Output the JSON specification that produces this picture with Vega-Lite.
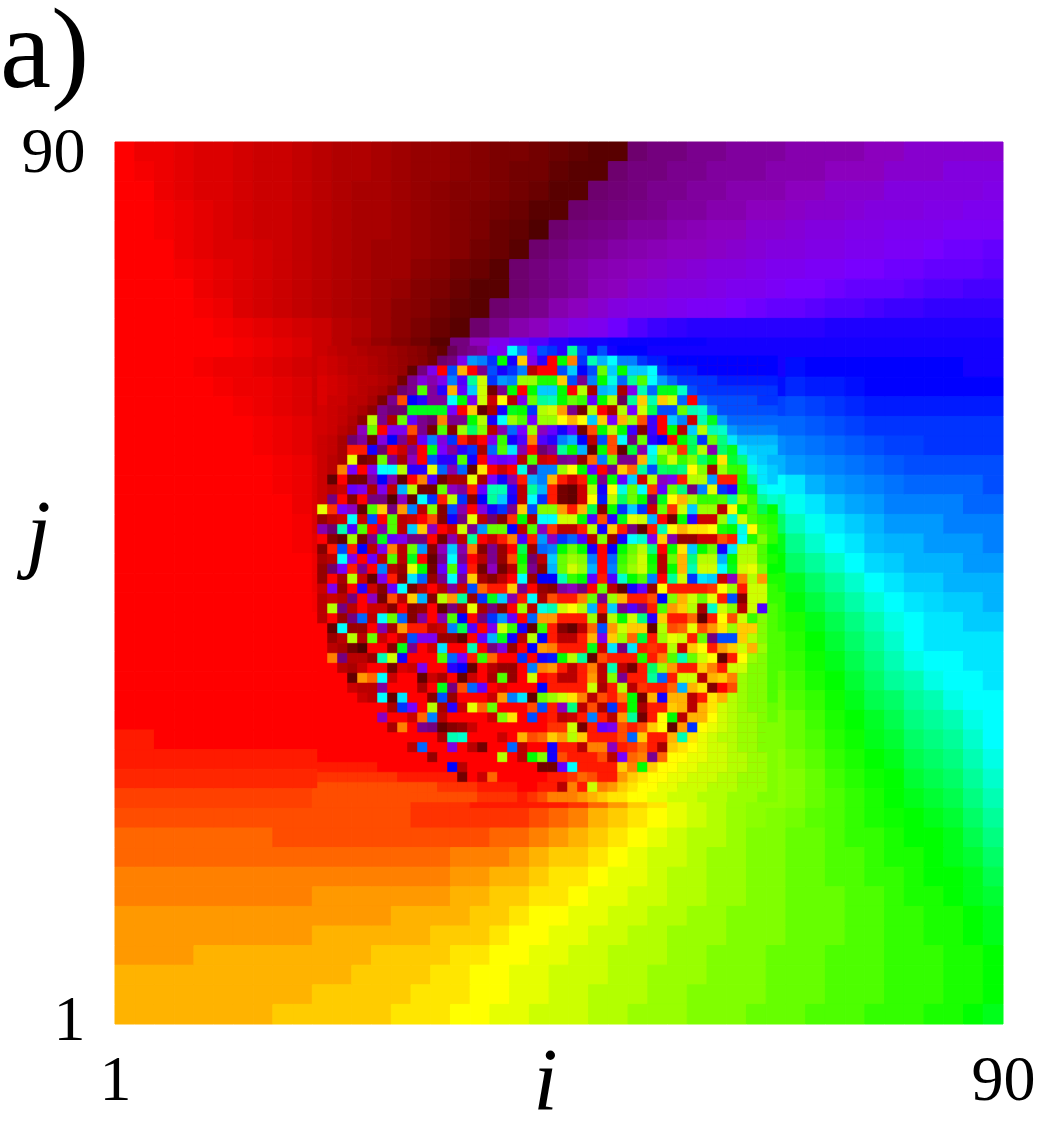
{"$schema":"https://vega.github.io/schema/vega-lite/v6.json","width":888,"height":882,"autosize":"none","padding":{"left":115,"top":142,"right":45,"bottom":101},"background":"white","view":{"stroke":null},
"title":{"text":"a)","font":"Liberation Serif","fontSize":115,"fontStyle":"normal","fontWeight":"normal","color":"black","anchor":"start","frame":"group","dx":-115,"offset":-82,"baseline":"alphabetic"},
"datasets":{"coarse":[
{"r":0,"v":[70,69,69,68.5,68,68,67.5,67,67,66.5,66,65.5,65.5,65,64.5,64,64,63.5,63,62.5,62.5,62,61.5,61,60.5,60.5,55,54,54,53,53,52,52,52,51,51,51,51,50,50,49,49,49,49,49]},
{"r":1,"v":[70,69.5,69,68.5,68,68,67.5,67,67,66.5,66,65.5,65.5,65,64.5,64,64,63.5,63,62.5,62,62,61,60.5,60.5,55,54,54,53,53,52,52,52,51,51,51,50,50,50,49,49,49,48,48,48]},
{"r":2,"v":[70,70,69,68.5,68,68,67.5,67,67,66.5,66,65.5,65,65,64.5,64,63.5,63,63,62.5,62,61.5,60.5,60.5,55,54.5,54,53,53,52,52,51,51,51,50,50,49,49,49,48,48,48,48,48,47.5]},
{"r":3,"v":[70,70,69.5,69,68.5,68,67.5,67,67,66.5,66,65.5,65,65,64.5,64,63.5,63,62.5,62,61.5,60.5,60.5,55,54.5,54,53.5,53,52,52,51,51,50,50,49.5,49,49,48.5,48,48,48,47.5,47.5,47,47]},
{"r":4,"v":[70,70,69.5,69,68.5,68,67.5,67,67,66.5,66,65.5,65,65,64.5,64,63.5,63,62.5,61.5,61,60,55,54,53.5,53,52,52,51,50.5,50,50,49,49,48.5,48,48,47.5,47.5,47,47,47,46.5,46.5,46.5]},
{"r":5,"v":[70,70,70,69,68.5,68,68,67.5,67,66.5,66,65.5,65,64.5,64.5,64,63.5,63,62,61.5,60.5,55,54,53,52.5,51.5,51,50.5,50,50,49.5,49,48.5,48,48,47.5,47.5,47,47,46.5,46.5,46,45.5,45.5,45]},
{"r":6,"v":[70,70,70,69.5,69,68.5,68,67.5,67,66.5,66,65.5,65,64.5,64.5,63.5,63,62,61.5,60.5,55,54,53,52,51,50.5,50,49.5,49,48.5,48,48,47.5,47,47,46.5,46.5,46,46,45.5,45.5,45,45,45,44.5]},
{"r":7,"v":[70,70,70,70,69,68.5,68,67.5,67,66.5,66,65.5,65,64.5,64,63,62.5,61.5,60.5,60.5,55,54,53,52,50.5,50,49,48.5,48,48,47.5,47,47,46.5,46,46,45.5,45,45,45,44.5,44,44,43.5,43.5]},
{"r":8,"v":[70,70,70,70,69.5,69,68,67.5,67,66.5,66,65.5,65,64.5,63.5,63,62,61,60.5,55,54,53,51,50,49,48,47.5,47.5,47,46.5,46.5,46,45.5,45,45,44.5,44,44,43.5,43,43,42.5,42.5,42.5,42.5]},
{"r":9,"v":[70,70,70,70,70,69.5,69,68.5,68,67.5,67,66,65.5,64.5,63.5,62.5,61.5,60.5,55,53,51,50,48.5,47.5,47,45.5,44,43,42.5,42,42,42,42,42,42,42,41.5,41.5,41.5,41.5,41.5,41.5,41.5,41.5,41.5]},
{"r":10,"v":[70,70,70,70,70,70,69.5,69,68.5,68,67,66,65,64,63,62,60.5,54,50,47,45,44,42,41,41,40.5,40.5,40.5,40.5,40.5,41,41,41,41,41,41,41,41,41,41,41,41,41,41,41]},
{"r":11,"v":[70,70,70,70,69.5,69,69,68.5,68,67.5,67,70,70,70,70,70,70,70,70,70,70,70,70,70,70,70,70,70,70,70,70,70,70,41,39.5,40,40,40,40,40,40,40,40,41,41]},
{"r":12,"v":[70,70,70,70,70,69.5,69,69,68.5,68,67,70,70,70,70,70,70,70,70,70,70,70,70,70,70,70,70,70,70,70,70,70,70,39.5,38.5,39,39,39.5,40,40,40,40,40,40,40]},
{"r":13,"v":[70,70,70,70,70,70,69.5,69,68.5,68,67,70,70,70,70,70,70,70,70,70,70,70,70,70,70,70,70,70,70,70,70,70,70,37.5,37,37.5,38,38.5,39,39,39,39,39,39,39]},
{"r":14,"v":[70,70,70,70,70,70,70,69.5,69,68.5,67.5,70,70,70,70,70,70,70,70,70,70,70,70,70,70,70,70,70,70,70,70,70,70,36,36,36.5,37,37.5,38,38,38,38,38,38,38]},
{"r":15,"v":[70,70,70,70,70,70,70,69.5,69,68.5,67.5,70,70,70,70,70,70,70,70,70,70,70,70,70,70,70,70,70,70,70,70,70,70,34.5,35,35.5,36,36.5,37,37.5,37.5,38,38,38,38]},
{"r":16,"v":[70,70,70,70,70,70,70,70,69.5,69,68,70,70,70,70,70,70,70,70,70,70,70,70,70,70,70,70,70,70,70,70,70,70,33,34,34.5,35,35.5,36,36.5,37,37,37,37,37]},
{"r":17,"v":[70,70,70,70,70,70,70,70,69.5,69,68,70,70,70,70,70,70,70,70,70,70,70,70,70,70,70,70,70,70,70,70,70,70,30,31,33,34,34.5,35,35.5,36,36,36,36,37]},
{"r":18,"v":[70,70,70,70,70,70,70,70,70,69,68,70,70,70,70,70,70,70,70,70,70,70,70,70,70,70,70,70,70,70,70,70,70,27,29.5,31,32.5,33.5,34,35,35,35,35,36,36]},
{"r":19,"v":[70,70,70,70,70,70,70,70,70,69.5,68,70,70,70,70,70,70,70,70,70,70,70,70,70,70,70,70,70,70,70,70,70,70,24,27.5,29.5,31,32,33,34,34,34,35,35,35]},
{"r":20,"v":[70,70,70,70,70,70,70,70,70,69.5,68.5,70,70,70,70,70,70,70,70,70,70,70,70,70,70,70,70,70,70,70,70,70,70,21,25.5,28,30,31,32.5,33,33,34,34,34,35]},
{"r":21,"v":[70,70,70,70,70,70,70,70,70,70,69,70,70,70,70,70,70,70,70,70,70,70,70,70,70,70,70,70,70,70,70,70,70,20,24,26,28,30,31.5,32,33,33,33,34,34]},
{"r":22,"v":[70,70,70,70,70,70,70,70,70,70,69,70,70,70,70,70,70,70,70,70,70,70,70,70,70,70,70,70,70,70,70,70,70,19,21.5,24,26,28,30,31,32,32,33,33,33]},
{"r":23,"v":[70,70,70,70,70,70,70,70,70,70,69.5,70,70,70,70,70,70,70,70,70,70,70,70,70,70,70,70,70,70,70,70,70,70,18,20.5,22.5,24.5,26.5,28.5,30,31,31.5,32,32,33]},
{"r":24,"v":[70,70,70,70,70,70,70,70,70,70,70,70,70,70,70,70,70,70,70,70,70,70,70,70,70,70,70,70,70,70,70,70,70,18,19,21,23,25,27,29,30,31,31,32,32]},
{"r":25,"v":[70,70,70,70,70,70,70,70,70,70,70,70,70,70,70,70,70,70,70,70,70,70,70,70,70,70,70,70,70,70,70,70,70,17,18.5,20,22,24,26,28,30,31,31,31,31]},
{"r":26,"v":[70,70,70,70,70,70,70,70,70,70,70,70,70,70,70,70,70,70,70,70,70,70,70,70,70,70,70,70,70,70,70,70,70,17,18,19.5,21,23,25,27,29,30,30,31,31]},
{"r":27,"v":[70,70,70,70,70,70,70,70,70,70,70,70,70,70,70,70,70,70,70,70,70,70,70,70,70,70,70,70,70,70,70,70,70,16,17.5,19,20,22,24,26,27,29,30,30,31]},
{"r":28,"v":[70,70,70,70,70,70,70,70,70,70,70,70,70,70,70,70,70,70,70,70,70,70,70,70,70,70,70,70,70,70,70,70,70,15.5,17,18,19.5,21,23,24,26,27,29,30,30]},
{"r":29,"v":[70,70,70,70,70,70,70,70,70,70,70,70,70,70,70,70,70,70,70,70,70,70,70,70,70,70,70,70,70,70,70,70,70,15,16,17.5,19,20,21.5,23,25,26,27,29,30]},
{"r":30,"v":[1,1,0,0,0,0,0,0,0,0,0,70,70,70,70,70,70,70,70,70,70,70,70,70,70,70,70,70,70,70,70,70,70,15,16,17,18.5,19.5,21,22,24,25,26,28,30]},
{"r":31,"v":[1,1,1,1,1,1,1,1,1,1,1,70,70,70,70,70,70,70,70,70,70,70,70,70,70,70,70,70,70,70,70,70,70,14.5,15.5,16.5,18,19,20,21,23,24,25,27,29]},
{"r":32,"v":[1.5,1.5,1.5,1.5,1.5,1.5,1.5,1.5,1.5,1.5,1.5,70,70,70,70,70,70,70,70,70,70,70,70,70,70,70,70,70,70,70,70,70,70,14.5,15,16,17.5,18.5,19.5,20,22,23,24,26,28]},
{"r":33,"v":[2.5,2.5,2.5,2.5,2.5,2.5,2.5,2.5,2.5,2.5,3,3,3,3,3,2,2,2,1,1,1,1,1,2,4,6,8,9,11,12,13,14,14.5,14.5,15,16,17,18,19,20,21,22,23,25,27]},
{"r":34,"v":[3,3,3,3,3,3,3,3,3,3,3,3,3,3,3,2,2,2,2,2,2,3,4,5,7,8,9,10,11,12,13,14,14.5,15,15.5,16.5,17,18,19,19.5,20,21,22,24,26]},
{"r":35,"v":[4,4,4,4,4,4,4,4,3,3,3,3,3,3,3,3,3,3,3,4,4,5,6,7,8,9,10,11,12,13,13,14,15,15,16,16,17,18,18,19,20,20,21,23,25]},
{"r":36,"v":[4,4,4,4,4,4,4,4,4,4,4,4,4,4,4,4,4,5,5,5,6,7,8,8,9,10,11,12,12,13,14,14,15,15,16,16,17,17,18,19,19,20,21,22,24]},
{"r":37,"v":[5,5,5,5,5,5,5,5,5,5,5,5,5,5,5,5,5,6,6,7,7,8,9,9,10,11,11,12,13,13,14,14,15,15,16,16,17,17,18,18,19,20,20,21,23]},
{"r":38,"v":[5,5,5,5,5,5,5,5,5,5,6,6,6,6,6,6,6,7,7,8,8,9,9,10,11,11,12,12,13,13,14,14,15,15,16,16,16,17,17,18,19,19,20,21,22]},
{"r":39,"v":[6,6,6,6,6,6,6,6,6,6,6,6,6,6,7,7,7,7,8,8,9,10,10,11,11,12,12,13,13,14,14,15,15,15,16,16,16,17,17,18,18,19,19,20,21]},
{"r":40,"v":[6,6,6,6,6,6,6,6,6,6,7,7,7,7,7,7,8,8,8,9,10,10,11,11,12,12,13,13,14,14,14,15,15,15,16,16,16,17,17,18,18,19,19,20,21]},
{"r":41,"v":[6,6,6,6,7,7,7,7,7,7,7,7,7,8,8,8,8,9,9,10,10,11,11,12,12,13,13,13,14,14,15,15,15,16,16,16,17,17,17,18,18,18,19,19,20]},
{"r":42,"v":[7,7,7,7,7,7,7,7,7,7,7,7,8,8,8,8,9,9,10,10,11,11,12,12,12,13,13,14,14,14,15,15,15,16,16,16,17,17,17,18,18,18,19,19,20]},
{"r":43,"v":[7,7,7,7,7,7,7,7,7,7,8,8,8,8,8,9,9,9,10,10,11,11,12,12,13,13,13,14,14,15,15,15,15,16,16,16,17,17,17,18,18,18,19,19,20]},
{"r":44,"v":[7,7,7,7,7,7,7,7,8,8,8,8,8,8,9,9,9,10,10,11,11,12,12,12,13,13,14,14,14,15,15,15,16,16,16,17,17,17,18,18,18,19,19,20,21]}
],"fine":[
{"r":0,"v":[67,66.5,66,66,65.5,65,65,64.5,64,63.5,63,62,61,56,54,53,52,46,47,30,35,46,37,38,42,26,37,41,37,41,40,40,40,41,41,41,41,41,41,41,41,41,41,41,41,41]},
{"r":1,"v":[67.5,67,66.5,66,66,65.5,65,64.5,64,63.5,63,62,55,54,47,34,35,38,20,41,8,47,42,0,20,5,38,27,33,30,35,35,38,39,39,40,40,40,40,40,40,40,40,40,40,40]},
{"r":2,"v":[67.5,67,66.5,66,66,65.5,65,64.5,64,61,54,47,0,37,7,0,53,37,41,38,35,66,0,0,37,32,40,37,16,32,20,32,32,30,38,39,39,39,40,40,40,40,40,40,40,40]},
{"r":3,"v":[68,67.5,67,66.5,66,66,65.5,65,62,53,48,51,47,35,44,26,12,38,34,35,14,14,19,19,8,37,53,35,20,29,36,26,17,30,34,36,38,38,38,38,39,39,39,39,39,39]},
{"r":4,"v":[68,67.5,67,66.5,66,65.5,65,63.5,55,53,17,52,42,7,45,32,12,62,53,20,0,20,32,32,20,0,13,65,33,32,65,47,27,36,21,21,28,37,38,38,38,38,38,38,38,38]},
{"r":5,"v":[68,67,67,66,66,65,62.5,53,3,40,42,52,52,30,20,47,12,67,10,66,47,16,26,27,20,16,18,45,20,13,56,26,8,27,8,12,36,0,36,37,37,37,37,37,38,38]},
{"r":6,"v":[67.5,67,66.5,66,65,63.5,53,55,55,21,21,21,21,46,0,8,61,65,41,21,20,38,13,12,6,53,62,13,0,65,13,46,12,23,37,37,16,27,28,35,37,37,37,37,37,37]},
{"r":7,"v":[67.5,67,66.5,65.5,63.5,13,53,65,16,45,53,55,5,53,53,20,13,41,30,14,17,46,14,14,10,7,10,32,8,46,7,14,3,43,0,32,35,67,27,21,34,36,36,36,36,36]},
{"r":8,"v":[67.5,67,66,65,50,16,0,47,47,3,53,62,17,63,14,24,15,66,51,36,46,14,50,45,41,45,62,3,20,13,20,43,63,43,0,20,66,32,13,27,28,34,35,35,35,35]},
{"r":9,"v":[67,66.5,65,55,52,62,48,40,53,66,45,35,48,38,1,66,0,47,18,41,44,5,44,42,35,33,40,66,37,3,30,54,16,42,40,0,20,24,38,16,25,31,33,33,33,33]},
{"r":10,"v":[67,66.5,65,1,1,41,55,0,67,53,0,21,46,52,42,38,65,36,17,31,51,0,55,52,26,20,33,61,20,3,61,22,51,30,13,16,2,23,13,51,24,21,31,32,32,32]},
{"r":11,"v":[67,66,65,11,62,63,16,53,65,50,0,37,42,42,17,41,0,46,45,46,66,17,67,68,53,52,64,4,35,16,53,53,7,28,17,12,18,15,24,20,9,22,25,31,32,33]},
{"r":12,"v":[67,66,5,46,0,47,30,30,13,42,42,11,36,51,36,61,9,0,67,0,29,55,35,35,14,10,20,45,0,53,8,4,26,37,24,23,25,10,15,65,14,18,18,29,31,32]},
{"r":13,"v":[67,61,0,62,62,52,40,51,61,0,5,44,62,65,65,11,65,46,41,51,1,33,35,7,1,67,1,20,53,20,45,32,67,13,50,47,1,13,13,34,1,1,19,26,31,32]},
{"r":14,"v":[67,66,67,45,47,65,47,66,33,13,62,62,16,50,52,1,45,27,27,42,66,26,33,1,62,61,67,13,41,10,29,16,30,2,45,16,25,54,35,11,38,42,19,21,29,30]},
{"r":15,"v":[67,54,0,63,0,54,54,60,50,61,30,38,1,13,38,63,40,26,32,41,66,30,38,1,62,61,67,10,39,13,24,16,20,55,21,10,7,14,18,18,17,26,14,18,26,28]},
{"r":16,"v":[11,2,46,50,61,17,8,54,6,35,66,15,63,37,51,0,48,41,38,53,8,37,15,15,6,1,7,23,63,20,38,32,38,67,16,2,12,32,14,14,66,10,20,17,23,20]},
{"r":17,"v":[64,66,67,30,67,37,0,17,66,67,0,3,63,41,54,11,66,55,63,2,20,65,30,30,12,12,20,44,3,42,21,11,12,33,0,62,20,42,67,67,14,28,12,17,18,19]},
{"r":18,"v":[51,55,27,44,17,0,51,17,66,32,8,50,0,67,12,53,34,16,16,40,66,17,50,2,66,66,1,13,41,8,1,54,61,1,27,10,7,9,9,10,19,20,29,10,17,18]},
{"r":19,"v":[0,63,61,14,62,53,21,45,47,54,54,0,62,51,66,26,0,67,1,5,44,1,34,50,38,36,44,66,15,64,41,30,28,47,8,51,64,64,67,67,3,1,30,19,15,18]},
{"r":20,"v":[63,1,37,1,40,66,47,5,66,16,34,63,50,32,51,5,63,53,64,0,23,64,36,35,20,16,20,41,0,40,20,16,13,25,0,20,9,32,20,16,41,31,13,13,17,20]},
{"r":21,"v":[65,66,30,47,0,45,66,17,66,21,0,61,53,30,53,0,66,53,64,3,20,55,66,32,16,14,15,35,0,36,18,15,12,20,66,16,7,25,13,13,33,20,13,13,17,19]},
{"r":22,"v":[64,55,46,1,53,0,35,66,64,11,20,62,45,17,45,1,62,50,62,66,18,53,63,33,16,12,14,33,0,35,17,14,12,19,66,20,7,27,12,12,30,21,12,11,15,20]},
{"r":23,"v":[64,0,65,13,67,61,47,1,63,31,36,64,53,30,53,8,65,63,66,0,30,64,40,40,27,18,20,45,1,44,28,20,17,35,0,26,12,38,31,32,67,50,5,13,6,19]},
{"r":24,"v":[67,47,64,0,42,67,63,45,30,62,66,0,66,52,67,37,4,1,1,8,53,0,64,63,52,50,54,0,16,66,61,41,45,64,10,1,1,1,1,2,10,14,1,12,12,18]},
{"r":25,"v":[66,67,66,54,0,50,62,3,66,8,33,63,13,6,26,64,38,21,32,51,1,30,65,3,1,1,5,16,53,14,7,1,1,3,40,15,7,12,16,11,1,37,63,12,12,18]},
{"r":26,"v":[66,13,54,66,0,67,67,63,0,63,64,0,61,54,65,11,65,54,63,0,14,66,29,27,12,10,13,33,1,32,53,44,53,1,17,6,8,13,65,28,12,15,66,12,44,17]},
{"r":27,"v":[66,0,64,54,36,66,30,16,36,63,52,0,51,17,40,0,54,38,34,45,0,36,6,6,1,1,1,14,63,13,20,12,25,42,8,1,1,4,61,1,10,3,12,18,15,17]},
{"r":28,"v":[70,61,30,64,64,0,51,65,6,1,1,66,67,35,23,44,0,47,12,18,41,61,18,1,63,61,66,4,37,6,12,8,8,61,13,3,4,11,3,6,9,14,8,8,15,17]},
{"r":29,"v":[70,64,66,13,66,16,67,0,66,37,47,47,64,64,61,0,45,33,21,41,66,13,40,1,66,66,1,7,47,8,14,4,22,1,14,11,12,1,16,54,37,37,8,13,15,17]},
{"r":30,"v":[70,66,65,62,60,0,0,63,21,53,0,67,31,0,0,27,0,54,48,64,0,40,6,5,1,1,1,21,67,31,54,31,1,2,1,13,67,8,10,1,6,8,12,7,14,17]},
{"r":31,"v":[70,5,54,66,66,64,27,12,41,0,0,0,17,36,46,1,18,4,0,0,38,0,41,39,20,13,26,61,3,1,1,1,19,1,5,17,27,16,12,10,61,1,10,14,15,17]},
{"r":32,"v":[70,70,66,65,67,0,0,62,68,67,47,0,0,42,40,61,0,66,64,64,0,35,5,6,1,66,1,5,66,27,66,62,1,24,14,6,1,1,8,5,1,12,12,15,15,17]},
{"r":33,"v":[70,70,70,61,6,4,30,67,0,0,61,67,65,0,61,67,0,65,17,64,0,12,0,1,66,66,1,6,66,15,53,1,1,26,36,1,12,12,66,7,8,5,14,15,15,17]},
{"r":34,"v":[70,70,70,67,66,66,52,0,0,0,65,0,21,54,3,36,45,0,68,0,0,0,40,1,1,1,1,12,65,1,13,66,2,1,1,4,33,7,9,63,0,3,14,15,15,17]},
{"r":35,"v":[70,70,70,70,67,66,30,61,31,0,0,63,37,64,0,0,0,67,6,35,31,61,16,14,12,9,5,66,3,1,5,20,62,7,41,7,7,66,1,9,7,13,14,15,15,17]},
{"r":36,"v":[70,70,70,70,70,70,70,65,38,46,0,13,65,42,67,11,4,16,0,0,0,3,37,1,50,25,66,3,65,38,1,20,65,1,1,8,7,66,7,9,12,13,14,15,15,16]},
{"r":37,"v":[70,70,70,70,70,70,50,0,0,67,4,35,66,0,0,0,0,67,15,9,0,37,0,1,66,67,1,35,1,66,6,26,62,1,10,20,66,7,7,10,12,13,14,14,15,16]},
{"r":38,"v":[70,70,70,70,70,70,70,65,5,0,53,54,61,63,64,67,0,0,0,0,0,0,0,2,2,12,62,1,45,47,3,1,3,8,10,61,6,38,10,11,12,13,14,14,15,15]},
{"r":39,"v":[0,0,0,0,0,0,0,0,0,0,0,0,65,27,28,0,0,0,67,0,7,3,4,8,6,13,8,1,1,1,3,36,8,1,1,7,27,9,11,12,13,13,14,14,15,15]},
{"r":40,"v":[0,0,0,0,0,0,0,0,0,66,36,0,0,48,0,66,62,0,0,36,66,0,0,41,1,1,66,5,5,50,1,2,4,1,65,8,9,10,11,12,12,13,14,14,15,15]},
{"r":41,"v":[0,0,0,0,0,0,0,0,0,0,0,64,0,0,0,0,0,0,13,0,66,20,15,41,3,1,1,1,3,66,46,4,5,53,4,10,10,11,11,12,12,13,13,14,14,15]},
{"r":42,"v":[1,1,1,1,1,1,0,0,0,0,0,0,0,40,66,0,0,0,0,0,0,0,62,62,45,30,1,1,1,1,8,5,20,8,10,10,11,11,12,12,12,13,13,14,14,15]},
{"r":43,"v":[2,2,2,2,2,2,2,2,1,1,1,1,1,1,62,0,67,4,0,0,0,0,0,1,1,2,4,3,1,1,6,8,9,10,10,11,11,12,12,12,13,13,14,14,14,15]},
{"r":44,"v":[3,3,3,3,3,3,3,3,3,3,3,3,2,2,2,2,1,1,1,1,0,0,1,1,66,5,1,12,5,6,8,9,10,10,11,11,12,12,12,13,13,13,14,14,14,15]},
{"r":45,"v":[3,3,3,3,3,3,3,3,3,3,3,3,3,3,3,3,2,2,2,2,1,2,3,5,5,5,6,7,8,9,9,10,10,11,11,12,12,12,13,13,13,14,14,14,15,15]}
],"ends":[{"i":1,"j":1},{"i":90,"j":90}]},
"resolve":{"scale":{"x":"independent","y":"independent"},"axis":{"x":"independent","y":"independent"}},
"layer":[
{"data":{"name":"coarse"},"transform":[{"flatten":["v"]},{"window":[{"op":"row_number","as":"c"}],"groupby":["r"]}],
"mark":{"type":"rect","strokeWidth":1},
"encoding":{"x":{"field":"c","type":"ordinal","axis":null,"scale":{"paddingInner":0,"paddingOuter":0}},"y":{"field":"r","type":"ordinal","axis":null,"scale":{"paddingInner":0,"paddingOuter":0}},
"color":{"field":"v","type":"quantitative","legend":null,"scale":{"domain":[0,10,20,30,40,46,50,55,60,70],"range":["#ff0000","#ffff00","#00ff00","#00ffff","#0000ff","#7800ff","#8c00be","#6e006e","#500000","#ff0000"],"interpolate":"rgb"}},
"stroke":{"field":"v","type":"quantitative","legend":null,"scale":{"domain":[0,10,20,30,40,46,50,55,60,70],"range":["#ff0000","#ffff00","#00ff00","#00ffff","#0000ff","#7800ff","#8c00be","#6e006e","#500000","#ff0000"],"interpolate":"rgb"}}}},
{"data":{"name":"fine"},"transform":[{"flatten":["v"]},{"window":[{"op":"row_number","as":"c"}],"groupby":["r"]}],
"mark":{"type":"rect","strokeWidth":0.5},
"encoding":{"x":{"field":"c","type":"ordinal","axis":null,"scale":{"range":[202.5,662.5],"paddingInner":0,"paddingOuter":0}},"y":{"field":"r","type":"ordinal","axis":null,"scale":{"range":[204,660],"paddingInner":0,"paddingOuter":0}},
"color":{"field":"v","type":"quantitative","legend":null,"scale":{"domain":[0,10,20,30,40,46,50,55,60,70],"range":["#ff0000","#ffff00","#00ff00","#00ffff","#0000ff","#7800ff","#8c00be","#6e006e","#500000","#ff0000"],"interpolate":"rgb"}},
"stroke":{"field":"v","type":"quantitative","legend":null,"scale":{"domain":[0,10,20,30,40,46,50,55,60,70],"range":["#ff0000","#ffff00","#00ff00","#00ffff","#0000ff","#7800ff","#8c00be","#6e006e","#500000","#ff0000"],"interpolate":"rgb"}}}},
{"data":{"name":"ends"},"mark":{"type":"point","opacity":0},
"encoding":{"x":{"field":"i","type":"quantitative","scale":{"domain":[1,90],"nice":false,"zero":false},"axis":{"values":[1,90],"grid":false,"domain":false,"ticks":false,"labelFont":"Liberation Serif","labelFontSize":64,"labelColor":"black","labelPadding":24,"labelFlush":false,"labelOverlap":false,"title":"i","titleFont":"Liberation Serif","titleFontStyle":"italic","titleFontWeight":"normal","titleFontSize":88,"titleColor":"black","titleX":430,"titleY":84,"titleBaseline":"alphabetic","titleAlign":"center"}},
"y":{"field":"j","type":"quantitative","scale":{"domain":[1,90],"nice":false,"zero":false},"axis":{"values":[1,90],"grid":false,"domain":false,"ticks":false,"labelFont":"Liberation Serif","labelFontSize":64,"labelColor":"black","labelPadding":30,"labelFlush":false,"labelOverlap":false,"labelBaseline":"middle","labelOffset":{"expr":"datum.value==90?10:-4"},"title":"j","titleFont":"Liberation Serif","titleFontStyle":"italic","titleFontWeight":"normal","titleFontSize":88,"titleColor":"black","titleAngle":0,"titleX":-77,"titleY":418,"titleBaseline":"alphabetic","titleAlign":"center"}}}}
]}
